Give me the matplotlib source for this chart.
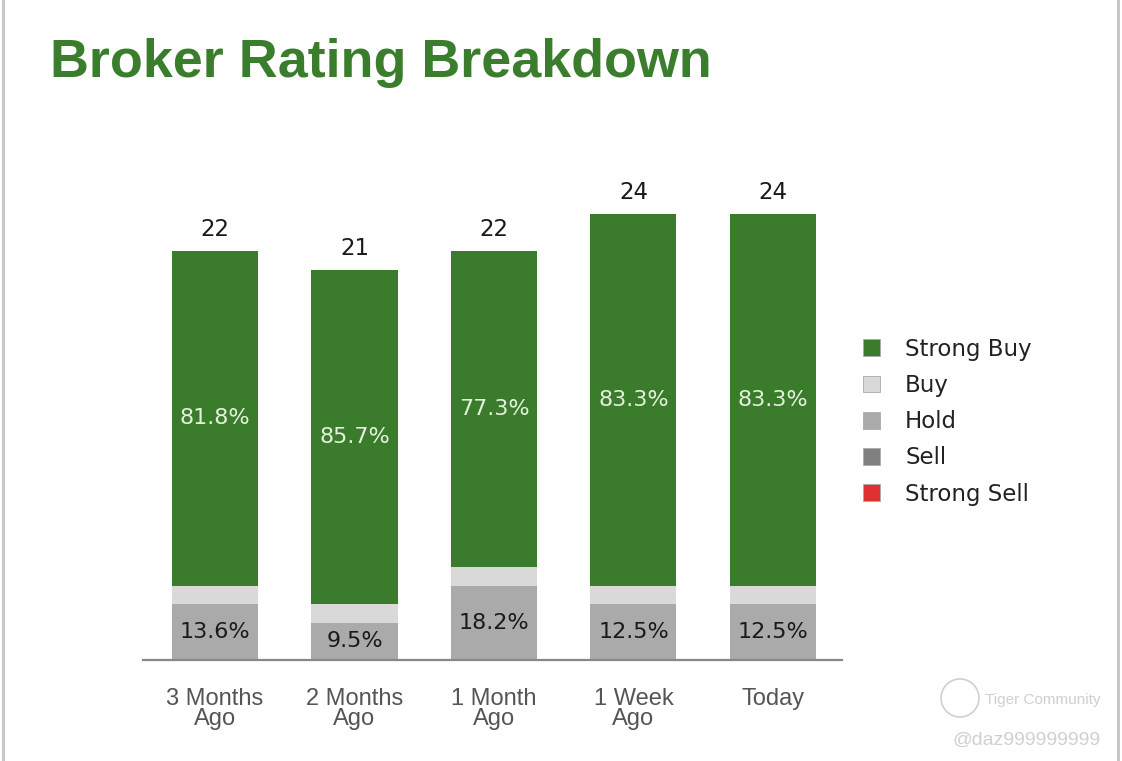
import matplotlib
matplotlib.use('Agg')
import matplotlib.pyplot as plt
from matplotlib.patches import Patch, Ellipse
from matplotlib.lines import Line2D
import numpy as np

# data
periods = ['3 Months\nAgo', '2 Months\nAgo', '1 Month\nAgo', '1 Week\nAgo', 'Today']
strong_buy = [18, 18, 17, 20, 20]
buy = [1, 1, 1, 1, 1]
hold = [3, 2, 4, 3, 3]
sell = [0, 0, 0, 0, 0]
strong_sell = [0, 0, 0, 0, 0]
sb_pct = ['81.8%', '85.7%', '77.3%', '83.3%', '83.3%']
hold_pct = ['13.6%', '9.5%', '18.2%', '12.5%', '12.5%']

rating_names = ['Strong Buy', 'Buy', 'Hold', 'Sell', 'Strong Sell']
colors = ['#3a7b2c', '#d9d9d9', '#aaaaaa', '#808080', '#e03030']

W, H = 1122, 761
fig = plt.figure(figsize=(W / 100, H / 100), dpi=100)

# page frame lines
fig.add_artist(Line2D([2.5 / W, 2.5 / W], [0, 1], color='#c8c8c8', lw=2.2))
fig.add_artist(Line2D([1117.5 / W, 1117.5 / W], [0, 1], color='#c8c8c8', lw=2.2))

fig.text(50 / W, 1 - 77 / H, 'Broker Rating Breakdown', family='Liberation Sans',
         weight='bold', fontsize=38.8, color='#3a7d2c', va='baseline')

ax = fig.add_axes([143 / W, 101 / H, (842 - 143) / W, 490 / H])

x = np.arange(len(periods))
width = 0.617
bottom = np.zeros(len(periods))
stack = [strong_sell, sell, hold, buy, strong_buy]
stack_colors = [colors[4], colors[3], colors[2], colors[1], colors[0]]
for vals, c in zip(stack, stack_colors):
    ax.bar(x, vals, width, bottom=bottom, color=c, edgecolor='none')
    bottom += np.array(vals)

totals = bottom
for i in range(len(periods)):
    # strong buy percent label
    lo = strong_sell[i] + sell[i] + hold[i] + buy[i]
    ax.text(x[i], lo + strong_buy[i] / 2, sb_pct[i], ha='center', va='center',
            fontsize=16, color='#e4f2dc')
    # hold percent label
    lo_h = strong_sell[i] + sell[i]
    ax.text(x[i], lo_h + hold[i] / 2, hold_pct[i], ha='center', va='center',
            fontsize=16, color='#1a1a1a')
    ax.annotate(f'{int(totals[i])}', (x[i], totals[i]), xytext=(0, 7),
                textcoords='offset points', ha='center', va='bottom',
                fontsize=16.5, color='#1a1a1a')

ax.set_xlim(-0.516, 4.495)
ax.set_ylim(0, 26.37)
ax.set_xticks(x)
ax.set_xticklabels(periods, family='Liberation Sans', fontsize=17,
                   color='#555555', linespacing=0.92)
ax.tick_params(axis='x', length=0, pad=20)
ax.set_yticks([])
for s in ['top', 'right', 'left']:
    ax.spines[s].set_visible(False)
ax.spines['bottom'].set_color('#888888')
ax.spines['bottom'].set_linewidth(1.6)

handles = [Patch(facecolor=c, edgecolor='#aaaaaa', lw=0.6) for c in colors]
fig.legend(handles, rating_names, loc='upper left',
           bbox_to_anchor=(842 / W, 1 - 317 / H), frameon=False, fontsize=16.5,
           handlelength=0.75, handleheight=0.75, handletextpad=1.1,
           labelspacing=0.58, labelcolor='#222222')

# watermark
fig.text(985 / W, 1 - 704 / H, 'Tiger Community', fontsize=11, color='#cfcfcf',
         family='Liberation Sans')
fig.text(952 / W, 1 - 745 / H, '@daz999999999', fontsize=14, color='#d0d0d0',
         family='Liberation Sans')
fig.add_artist(Ellipse((960 / W, 1 - 698 / H), 38 / W, 38 / H,
                       transform=fig.transFigure, fill=False, ec='#d0d0d0', lw=1.2))

fig.savefig('out.png', dpi=100)
